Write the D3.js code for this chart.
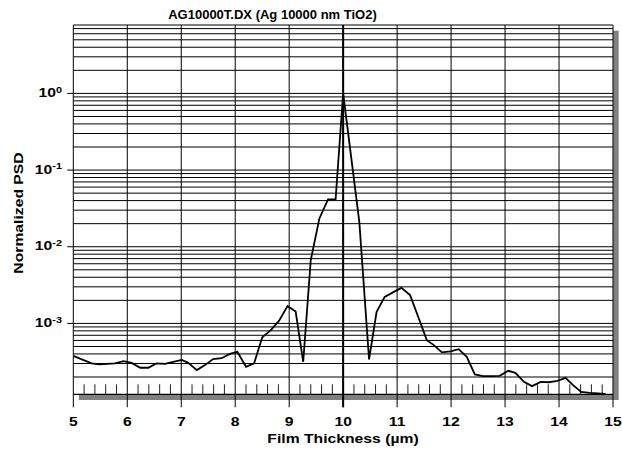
<!DOCTYPE html>
<html>
<head>
<meta charset="utf-8">
<script src="https://cdn.jsdelivr.net/npm/d3@7"></script>
<style>
  html, body { margin: 0; padding: 0; background: #fff; }
  svg text { font-family: "Liberation Sans", Arial, sans-serif; font-weight: bold; fill: #000; }
</style>
</head>
<body>
<svg id="chart" width="622" height="449"></svg>
<script>
// ---- data ----
const title = "AG10000T.DX (Ag 10000 nm TiO2)";
const xLabel = "Film Thickness (µm)";
const yLabel = "Normalized PSD";
const thickness = [5.01,5.34,5.48,5.77,5.93,6.08,6.24,6.39,6.54,6.70,6.85,7.01,7.13,7.29,7.44,7.59,7.75,7.90,8.04,8.20,8.35,8.50,8.66,8.81,8.97,9.12,9.26,9.40,9.56,9.72,9.86,10.0,10.30,10.48,10.62,10.77,10.93,11.08,11.24,11.39,11.55,11.68,11.83,11.99,12.14,12.29,12.44,12.59,12.75,12.90,13.06,13.19,13.35,13.50,13.66,13.81,13.97,14.12,14.26,14.41,14.57,14.72,14.86];
const psd = [3.75e-4,3.01e-4,2.92e-4,3.01e-4,3.22e-4,3.06e-4,2.64e-4,2.64e-4,3.01e-4,2.97e-4,3.16e-4,3.35e-4,3.06e-4,2.46e-4,2.86e-4,3.42e-4,3.52e-4,4.01e-4,4.26e-4,2.72e-4,3.01e-4,6.57e-4,8.18e-4,1.08e-3,1.68e-3,1.43e-3,3.16e-4,6.69e-3,0.0234,0.0414,0.0414,1.0,0.0209,3.39e-4,1.42e-3,2.22e-3,2.56e-3,2.91e-3,2.34e-3,1.22e-3,6.05e-4,5.21e-4,4.19e-4,4.31e-4,4.62e-4,3.67e-4,2.16e-4,2.06e-4,2.06e-4,2.07e-4,2.41e-4,2.27e-4,1.73e-4,1.52e-4,1.73e-4,1.71e-4,1.78e-4,1.95e-4,1.57e-4,1.28e-4,1.24e-4,1.22e-4,1.20e-4];
const xTicks = [5,6,7,8,9,10,11,12,13,14,15];
const yDecades = [0,-1,-2,-3];
const markerThickness = 10;

// ---- layout ----
const L = 73.3, R = 613, T = 25, B = 394.3;
const svg = d3.select("#chart");
const x = d3.scaleLinear().domain([5, 15]).range([L, R]);
const y = d3.scaleLog().domain([1.19e-4, 7.8]).range([B, T]);
const SX = 1.21; // horizontal stretch of the axis fonts

// shadow + background
svg.append("rect").attr("x", L + 5.7).attr("y", T + 5.7).attr("width", R - L).attr("height", B - T).attr("fill", "#808080");
svg.append("rect").attr("x", L).attr("y", T).attr("width", R - L).attr("height", B - T).attr("fill", "#fff");

// horizontal grid lines (1..9 x 10^k)
const [y0, y1] = y.domain();
const hLines = [];
for (let k = -4; k <= 0; k++) for (let m = 1; m <= 9; m++) {
  const v = m * Math.pow(10, k);
  if (v > y0 && v < y1) hLines.push(v);
}
svg.append("g").selectAll("line").data(hLines).join("line")
  .attr("x1", L).attr("x2", R).attr("y1", d => y(d)).attr("y2", d => y(d))
  .attr("stroke", "#000").attr("stroke-width", 1);

// vertical grid lines + ticks below axis
svg.append("g").selectAll("line").data(xTicks).join("line")
  .attr("x1", d => x(d)).attr("x2", d => x(d)).attr("y1", T).attr("y2", B + 13)
  .attr("stroke", "#000").attr("stroke-width", 1);

// minor x ticks
const minor = d3.range(5, 15.001, 0.2).filter(v => Math.abs(v - Math.round(v)) > 0.01);
svg.append("g").selectAll("line").data(minor).join("line")
  .attr("x1", d => x(d)).attr("x2", d => x(d)).attr("y1", B - 10).attr("y2", B)
  .attr("stroke", "#222").attr("stroke-width", 1);

// frame
svg.append("line").attr("x1", L).attr("x2", R).attr("y1", T).attr("y2", T).attr("stroke", "#000");
svg.append("line").attr("x1", L).attr("x2", R).attr("y1", B).attr("y2", B).attr("stroke", "#000").attr("stroke-width", 1.3);

// marker line at 10 µm
svg.append("line").attr("x1", x(markerThickness)).attr("x2", x(markerThickness)).attr("y1", T).attr("y2", B + 13)
  .attr("stroke", "#000").attr("stroke-width", 2);

// y ticks
svg.append("g").selectAll("line").data(yDecades).join("line")
  .attr("x1", L - 6).attr("x2", L).attr("y1", d => y(Math.pow(10, d))).attr("y2", d => y(Math.pow(10, d)))
  .attr("stroke", "#000");

// data line
const pts = thickness.map((t, i) => [t, psd[i]]);
svg.append("path").datum(pts)
  .attr("d", d3.line().x(d => x(d[0])).y(d => y(d[1])))
  .attr("fill", "none").attr("stroke", "#000").attr("stroke-width", 1.8).attr("stroke-linejoin", "miter");

// x tick labels
svg.append("g").selectAll("text").data(xTicks).join("text")
  .attr("transform", d => `translate(${x(d)},426) scale(${SX},1)`).attr("text-anchor", "middle")
  .attr("font-size", 13).text(d => d);

// y tick labels
const yl = svg.append("g").selectAll("text").data(yDecades).join("text")
  .attr("transform", d => `translate(62,${y(Math.pow(10, d)) + 3.6}) scale(${SX},1)`)
  .attr("text-anchor", "end").attr("font-size", 13);
yl.append("tspan").text("10");
yl.append("tspan").attr("dy", -4.5).attr("font-size", 9).text(d => d === 0 ? "0" : "-" + (-d));

// titles
svg.append("text").attr("x", 272.5).attr("y", 19.3).attr("text-anchor", "middle").attr("font-size", 13).text(title);
svg.append("text").attr("transform", `translate(343,443) scale(${SX},1)`).attr("text-anchor", "middle").attr("font-size", 13).text(xLabel);
svg.append("text").attr("transform", `translate(22.5,213) rotate(-90) scale(${SX},1)`).attr("text-anchor", "middle").attr("font-size", 13).text(yLabel);
</script>
</body>
</html>
